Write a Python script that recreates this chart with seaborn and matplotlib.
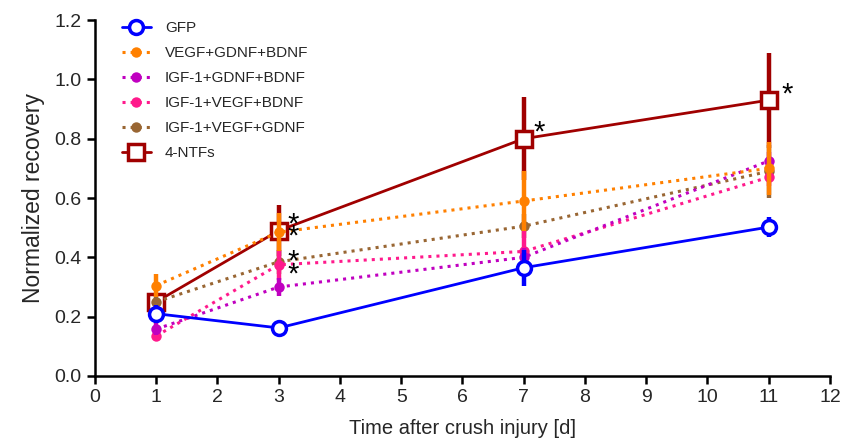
import numpy as np
import pandas as pd
import matplotlib
matplotlib.use("Agg")
import matplotlib.pyplot as plt
from matplotlib.transforms import offset_copy
import seaborn as sns

days = [1, 3, 7, 11]
series_names = ["GFP", "VEGF+GDNF+BDNF", "IGF-1+GDNF+BDNF", "IGF-1+VEGF+BDNF",
                "IGF-1+VEGF+GDNF", "4-NTFs"]
gfp = [0.21, 0.162, 0.365, 0.502]
gfp_err = [0.03, 0.01, 0.06, 0.035]
vgb = [0.305, 0.485, 0.59, 0.70]
vgb_err = [0.04, 0.065, 0.10, 0.09]
igb = [0.158, 0.30, 0.40, 0.725]
igb_err = [0.02, 0.03, 0.03, 0.03]
ivb = [0.135, 0.375, 0.42, 0.67]
ivb_err = [0.015, 0.05, 0.07, 0.03]
ivg = [0.25, 0.385, 0.505, 0.69]
ivg_err = [0.02, 0.04, 0.04, 0.09]
ntf = [0.25, 0.49, 0.80, 0.93]
ntf_err = [0.02, 0.085, 0.14, 0.16]

# significance asterisks (x, y of bottom star, text, line spacing)
star_x = [3.23, 7.25, 11.3]
star_y = [0.361, 0.839, 0.967]
star_text = ["*\n*\n\n*\n*", "*", "*"]
star_spacing = [0.3, 1.0, 1.0]

x_ticks = list(range(0, 13))
y_ticks = [0.0, 0.2, 0.4, 0.6, 0.8, 1.0, 1.2]

sns.set_style("ticks")
plt.rcParams['font.family'] = ['Liberation Sans', 'DejaVu Sans']

fig = plt.figure(figsize=(8.46, 4.46), dpi=100)
ax = fig.add_axes([0.1123, 0.157, 0.8687, 0.798])

styles = [
    dict(vals=gfp, err=gfp_err, color="#0000ff", ls="-", marker="o", ms=10, mfc="white", mew=2.5, lw=2.0, z=8),
    dict(vals=vgb, err=vgb_err, color="#ff8000", ls=":", marker="o", ms=7.5, mfc="#ff8000", mew=0, lw=2.2, z=6),
    dict(vals=igb, err=igb_err, color="#c000c0", ls=":", marker="o", ms=7.5, mfc="#c000c0", mew=0, lw=2.2, z=5),
    dict(vals=ivb, err=ivb_err, color="#ff1a8c", ls=":", marker="o", ms=7.5, mfc="#ff1a8c", mew=0, lw=2.2, z=4),
    dict(vals=ivg, err=ivg_err, color="#996633", ls=":", marker="o", ms=7.5, mfc="#996633", mew=0, lw=2.2, z=3),
    dict(vals=ntf, err=ntf_err, color="#a00000", ls="-", marker="s", ms=11, mfc="white", mew=2.5, lw=2.0, z=2),
]

for name, st in zip(series_names, styles):
    df = pd.DataFrame({"day": days, "value": st["vals"]})
    ax.errorbar(days, st["vals"], yerr=st["err"], fmt="none", ecolor=st["color"],
                elinewidth=3.2, capsize=0, zorder=st["z"])
    sns.lineplot(data=df, x="day", y="value", ax=ax, color=st["color"],
                 linestyle=st["ls"], linewidth=st["lw"], marker=st["marker"],
                 markersize=st["ms"], markerfacecolor=st["mfc"],
                 markeredgecolor=st["color"], markeredgewidth=st["mew"],
                 label=name, zorder=st["z"] + 0.5)

star_fs = 21
star_trans = offset_copy(ax.transData, fig=fig, x=0, y=-0.47 * star_fs, units="points")
for sx, sy, stxt, sp in zip(star_x, star_y, star_text, star_spacing):
    ax.text(sx, sy, stxt, fontsize=star_fs, ha="center", va="baseline",
            linespacing=sp, color="#000000", zorder=10, transform=star_trans)

ax.set_xlim(0, 12)
ax.set_ylim(0, 1.2)
ax.set_xticks(x_ticks)
ax.set_yticks(y_ticks)
ax.set_yticklabels([f"{v:.1f}" for v in y_ticks])
ax.tick_params(axis="both", labelsize=14, width=1.8, length=6, direction="out", color="black")
for s in ["left", "bottom"]:
    ax.spines[s].set_linewidth(1.8)
    ax.spines[s].set_color("black")
ax.spines["top"].set_visible(False)
ax.spines["right"].set_visible(False)
ax.set_xlabel("Time after crush injury [d]", fontsize=14.5, labelpad=9)
ax.set_ylabel("Normalized recovery", fontsize=16.5, labelpad=7)

leg = ax.legend(loc="upper left", bbox_to_anchor=(0.018, 1.035), frameon=False,
                fontsize=11, handlelength=1.9, labelspacing=0.72, handletextpad=0.9)

fig.savefig("out.png", dpi=100)
